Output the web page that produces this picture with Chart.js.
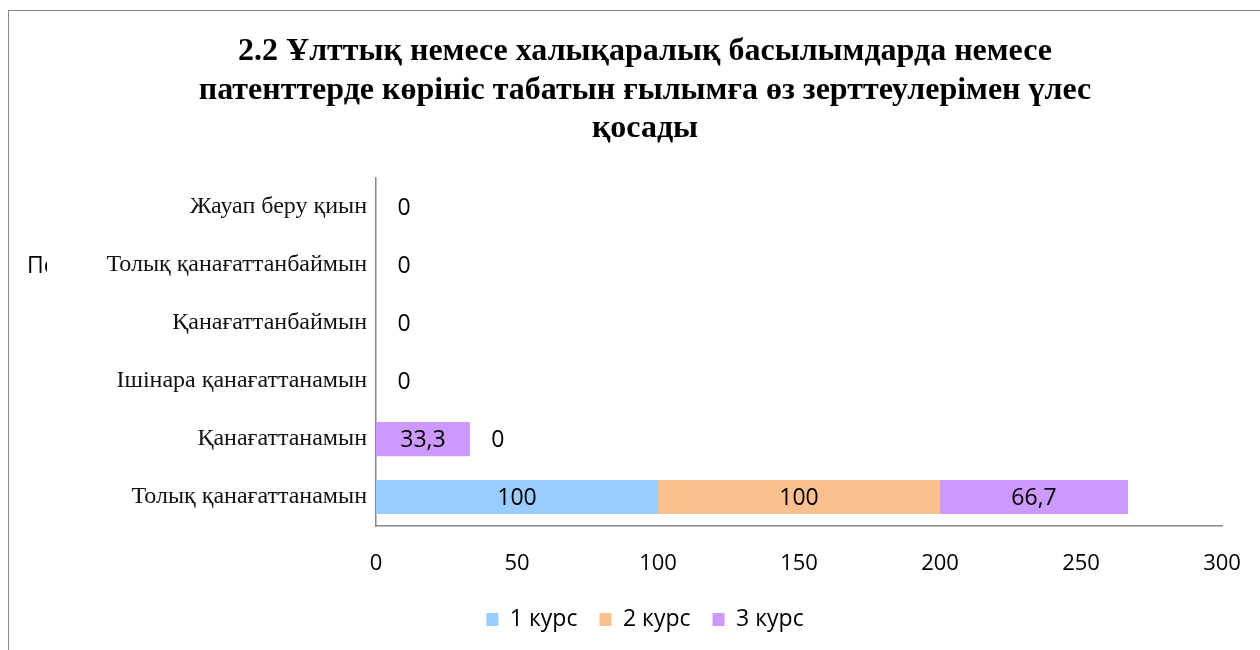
<!DOCTYPE html>
<html>
<head>
<meta charset="utf-8">
<script src="https://cdn.jsdelivr.net/npm/chart.js@4.4.1/dist/chart.umd.min.js"></script>
<style>
  html, body { margin: 0; padding: 0; background: #fff; overflow: hidden; }
  #wrap { position: relative; width: 1260px; height: 650px; }
  #frame { position: absolute; left: 8px; top: 10px; width: 1300px; height: 700px; border: 1.5px solid #8a8a8a; box-sizing: border-box; }
  #myChart { position: absolute; left: 0; top: 0; }
</style>
</head>
<body>
<div id="wrap">
  <div id="frame"></div>
  <canvas id="myChart" width="1260" height="650"></canvas>
</div>
<script>
// categories, bottom row first as in the picture
const categorias = ['Толық қанағаттанамын', 'Қанағаттанамын', 'Ішінара қанағаттанамын', 'Қанағаттанбаймын', 'Толық қанағаттанбаймын', 'Жауап беру қиын'];
const kurs1 = [100, 0, 0, 0, 0, 0];
const kurs2 = [100, 0, 0, 0, 0, 0];
const kurs3 = [66.7, 33.3, 0, 0, 0, 0];
const seriesNames = ['1 курс', '2 курс', '3 курс'];
const xTicks = [0, 50, 100, 150, 200, 250, 300];
const titulo = ['2.2 Ұлттық немесе халықаралық басылымдарда немесе', 'патенттерде көрініс табатын ғылымға өз зерттеулерімен үлес', 'қосады'];
const axisStub = 'Пс';

const cores = ['#99CCFF', '#FAC090', '#CC99FF'];
const sansFont = '"Open Sans", sans-serif';
const serifFont = '"Liberation Serif", "Times New Roman", serif';

function fmt(v) {
  return String(v).replace('.', ',');
}

// data labels: value in the middle of each segment, one "0" after the stack for empty parts
const rotulos = {
  id: 'rotulos',
  afterDatasetsDraw(chart) {
    const ctx = chart.ctx;
    const xs = chart.scales.x;
    ctx.save();
    ctx.font = '23px ' + sansFont;
    ctx.fillStyle = '#000';
    ctx.textAlign = 'center';
    ctx.textBaseline = 'middle';
    chart.data.datasets.forEach((ds, di) => {
      const meta = chart.getDatasetMeta(di);
      meta.data.forEach((bar, i) => {
        const v = ds.data[i];
        if (v > 0) ctx.fillText(fmt(v), (bar.x + bar.base) / 2, bar.y + 1);
      });
    });
    categorias.forEach((c, i) => {
      const vals = chart.data.datasets.map(d => d.data[i]);
      if (vals.some(v => v === 0)) {
        const total = vals.reduce((a, b) => a + b, 0);
        const y = chart.getDatasetMeta(0).data[i].y;
        ctx.fillText('0', xs.getPixelForValue(total) + 28, y + 1);
      }
    });
    // clipped axis title stub at the left
    ctx.beginPath();
    ctx.rect(20, 240, 27, 50);
    ctx.clip();
    ctx.textAlign = 'left';
    ctx.font = '23px ' + sansFont;
    ctx.fillText(axisStub, 27, 266);
    ctx.restore();
  }
};

const ctx = document.getElementById('myChart').getContext('2d');
const chart = new Chart(ctx, {
  type: 'bar',
  data: {
    labels: categorias,
    datasets: [kurs1, kurs2, kurs3].map((d, i) => ({
      label: seriesNames[i],
      data: d,
      backgroundColor: cores[i],
      borderWidth: 0,
      categoryPercentage: 1,
      barPercentage: 0.59
    }))
  },
  options: {
    indexAxis: 'y',
    responsive: false,
    animation: false,
    layout: { padding: { top: 10, left: 68, right: 38, bottom: 9 } },
    plugins: {
      tooltip: { enabled: false },
      title: {
        display: true,
        text: titulo,
        color: '#000',
        font: { family: serifFont, size: 32, weight: 'bold', lineHeight: 1.2 },
        padding: { top: 23, bottom: 30 }
      },
      legend: {
        position: 'bottom',
        maxHeight: 72,
        labels: {
          boxWidth: 12,
          boxHeight: 13,
          padding: 22,
          color: '#000',
          font: { family: sansFont, size: 23 }
        }
      }
    },
    scales: {
      x: {
        stacked: true,
        min: 0,
        max: 300,
        afterBuildTicks: s => { s.ticks = xTicks.map(v => ({ value: v })); },
        grid: { display: false, drawTicks: false },
        border: { display: true, color: '#888', width: 1.5 },
        ticks: { color: '#000', padding: 25, font: { family: sansFont, size: 22 } },
        afterFit: s => { s.height = 60; s.paddingLeft = 0; s.paddingRight = 0; }
      },
      y: {
        stacked: true,
        reverse: true,
        grid: { display: false, drawTicks: false },
        border: { display: true, color: '#888', width: 1.5 },
        ticks: { color: '#111', padding: 9, font: { family: serifFont, size: 24 } },
        afterFit: s => { s.width = 308; }
      }
    }
  },
  plugins: [rotulos]
});
</script>
</body>
</html>
